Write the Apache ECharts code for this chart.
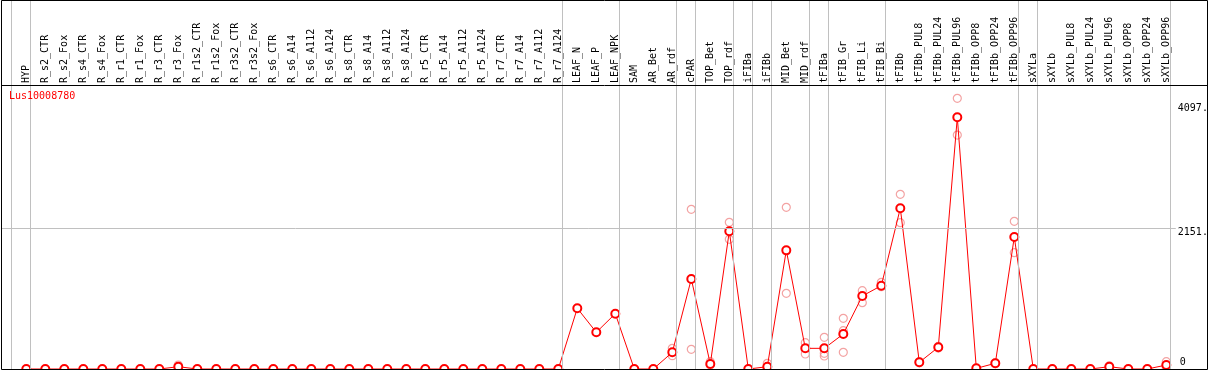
<!DOCTYPE html>
<html><head><meta charset="utf-8">
<script src="https://cdn.jsdelivr.net/npm/echarts@6/dist/echarts.min.js"></script>
<style>html,body{margin:0;padding:0;background:#fff}#chart{width:1209px;height:370px}</style>
</head><body><div id="chart"></div>
<script>
const categories = ['HYP','R_s2_CTR','R_s2_Fox','R_s4_CTR','R_s4_Fox','R_r1_CTR','R_r1_Fox','R_r3_CTR','R_r3_Fox','R_r1s2_CTR','R_r1s2_Fox','R_r3s2_CTR','R_r3s2_Fox','R_s6_CTR','R_s6_A14','R_s6_A112','R_s6_A124','R_s8_CTR','R_s8_A14','R_s8_A112','R_s8_A124','R_r5_CTR','R_r5_A14','R_r5_A112','R_r5_A124','R_r7_CTR','R_r7_A14','R_r7_A112','R_r7_A124','LEAF_N','LEAF_P','LEAF_NPK','SAM','AR_Bet','AR_rdf','cPAR','TOP_Bet','TOP_rdf','iFIBa','iFIBb','MID_Bet','MID_rdf','tFIBa','tFIB_Gr','tFIB_Li','tFIB_Bi','tFIBb','tFIBb_PUL8','tFIBb_PUL24','tFIBb_PUL96','tFIBb_OPP8','tFIBb_OPP24','tFIBb_OPP96','sXYLa','sXYLb','sXYLb_PUL8','sXYLb_PUL24','sXYLb_PUL96','sXYLb_OPP8','sXYLb_OPP24','sXYLb_OPP96'];

const meanValues = [0,0,0,0,0,0,0,0,35,0,0,0,0,0,0,0,0,0,0,0,0,0,0,0,0,0,0,0,0,
  928,561,846,0,0,255,1376,76,2105,0,35,1814,316,316,535,1116,1274,2457,102,332,3848,10,87,2018,0,0,0,0,35,0,0,61];

const rep1 = [null,null,null,null,null,null,null,null,61,null,null,null,null,null,null,null,null,null,null,null,null,null,null,null,null,null,null,null,null,
  null,null,null,null,null,316,2441,112,2243,null,87,2472,403,484,775,1197,1325,2671,110,345,4138,null,95,2258,null,null,null,null,50,null,null,112];
const rep2 = [null,null,null,null,null,null,null,null,10,null,null,null,null,null,null,null,null,null,null,null,null,null,null,null,null,null,null,null,null,
  null,null,null,null,null,203,301,61,1983,null,0,1157,229,240,586,1014,1258,2237,95,320,3577,null,80,1778,null,null,null,null,20,null,null,10];
const rep3 = [null,null,null,null,null,null,null,null,null,null,null,null,null,null,null,null,null,null,null,null,null,null,null,null,null,null,null,null,null,
  null,null,null,null,null,null,null,null,null,null,null,null,null,199,255,null,null,null,null,null,null,null,null,null,null,null,null,null,null,null,null,null];

const groupEnds = [-1, 0, 28, 31, 34, 35, 37, 38, 39, 41, 42, 45, 52, 53, 60];
const yTickValues = [0, 2151, 4097];
const yTickLabels = ['0', '2151.', '4097.'];
const yGridValues = [2151];
const geneName = 'Lus10008780';

const FONT = 'DejaVu Sans Mono';
const Y_MAX = 4342;
const SEP_OFFSET = 0.221;
const labelShift = [[2,-7],[0,4],[0,7]];

const chart = echarts.init(document.getElementById('chart'), null, {renderer:'canvas'});
chart.setOption({
  animation: false,
  backgroundColor: '#fff',
  title: {text: geneName, left: 9, top: 91, padding: 0,
    textStyle: {color:'#ff0000', fontFamily: FONT, fontSize: 10, fontWeight:'normal'}},
  grid: [
    {left: 16.8, width: 1159, top: 85, height: 284},
    {left: 2, right: 2, top: 0, bottom: 1},
    {left: 2, width: 1173.8, top: 85, height: 284}
  ],
  xAxis: [
    {gridIndex:0, type:'category', data: categories, position:'top', boundaryGap:true,
      axisLine:{show:false}, axisTick:{show:false}, splitLine:{show:false},
      axisLabel:{interval:0, rotate:90, margin:2, fontFamily:FONT, fontSize:10, color:'#000'}},
    {gridIndex:1, type:'value', min:(2-26.3)/19, max:(1207-26.3)/19, show:false},
    {gridIndex:2, type:'value', min:0, max:1, show:false}
  ],
  yAxis: [
    {gridIndex:0, type:'value', min:0, max:Y_MAX, show:false},
    {gridIndex:1, type:'value', min:0, max:1, show:false},
    {gridIndex:2, type:'value', min:0, max:Y_MAX, show:false}
  ],
  series: [
    {type:'line', xAxisIndex:1, yAxisIndex:1, data:[], silent:true,
      markLine:{silent:true, symbol:['none','none'], label:{show:false},
        lineStyle:{color:'#c0c0c0', width:1, type:'solid'},
        emphasis:{disabled:true},
        data: groupEnds.map(k => ({xAxis: k + SEP_OFFSET}))}},
    {type:'line', xAxisIndex:2, yAxisIndex:2, data:[], silent:true,
      markLine:{silent:true, symbol:['none','none'],
        emphasis:{disabled:true},
        lineStyle:{color:'#c0c0c0', width:1, type:'solid'},
        label:{position:'end', distance:2, fontFamily:FONT, fontSize:10, color:'#000'},
        data: yTickValues.map((v,i) => ({yAxis: v,
          label:{formatter: yTickLabels[i], offset: labelShift[i], color:'#000'},
          lineStyle:{color: yGridValues.includes(v) ? '#c0c0c0' : 'rgba(0,0,0,0)'}}))}},
    ...[rep1, rep2, rep3].map(r => ({type:'scatter', xAxisIndex:0, yAxisIndex:0, data:r,
      symbol:'circle', symbolSize:8, silent:true, z:2,
      itemStyle:{color:'rgba(0,0,0,0)', borderColor:'#f08c8c', borderWidth:1.2}})),
    {type:'line', xAxisIndex:0, yAxisIndex:0, data: meanValues, z:3,
      symbol:'emptyCircle', symbolSize:8, showAllSymbol:true, silent:true,
      lineStyle:{color:'#ff0000', width:1},
      itemStyle:{color:'#ff0000', borderColor:'#ff0000', borderWidth:1.5}}
  ],
  graphic: [
    {type:'rect', shape:{x:1.5, y:0.5, width:1206, height:369}, style:{fill:null, stroke:'#000', lineWidth:1}, silent:true, z:100},
    {type:'line', shape:{x1:1.5, y1:85.5, x2:1207.5, y2:85.5}, style:{stroke:'#000', lineWidth:1}, silent:true, z:100}
  ]
});
</script></body></html>
